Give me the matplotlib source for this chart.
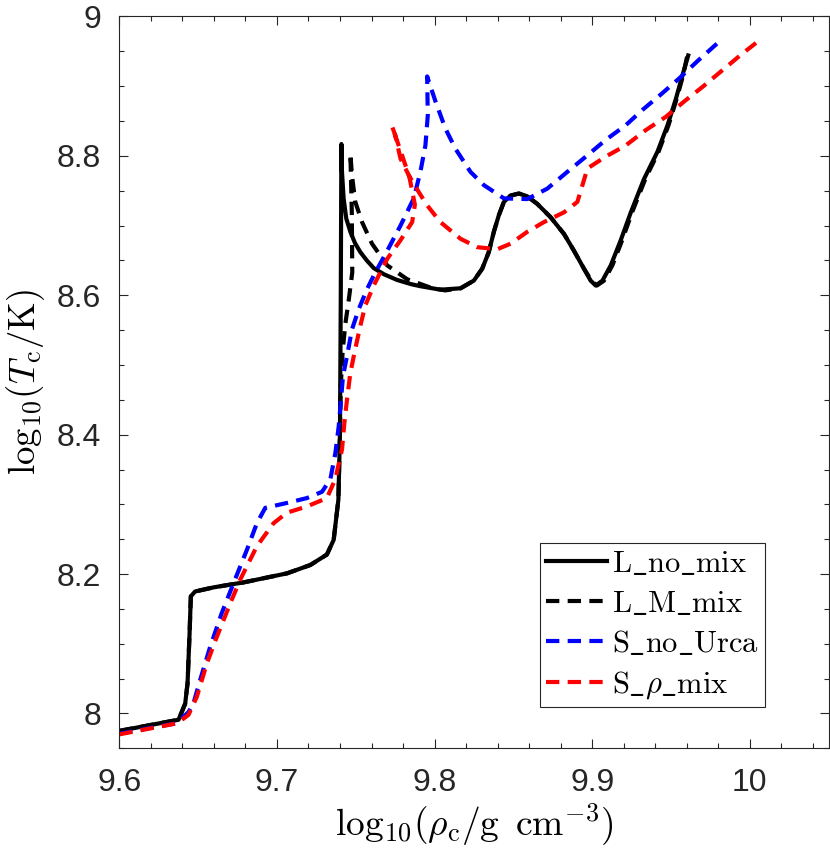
import matplotlib
matplotlib.use("Agg")
import matplotlib.pyplot as plt
from matplotlib.ticker import MultipleLocator, FuncFormatter

plt.rcParams['font.family'] = ['Liberation Sans', 'DejaVu Sans']
plt.rcParams['mathtext.fontset'] = 'cm'

# log10(rho_c), log10(T_c)
l_nomix_x = [9.600, 9.6376, 9.6418, 9.6433, 9.6446, 9.6454, 9.6481, 9.6600, 9.6788, 9.7064,
             9.7212, 9.7317, 9.7360, 9.7390, 9.7400, 9.7405, 9.7409, 9.7412, 9.7423, 9.7440,
             9.7466, 9.7495, 9.7529, 9.7570, 9.7614, 9.7680, 9.7762, 9.7850, 9.7910, 9.8037,
             9.8165, 9.8249, 9.8302, 9.8344, 9.8376, 9.8408, 9.8440, 9.8482, 9.8535, 9.8588,
             9.8652, 9.8736, 9.8821, 9.8884, 9.8948, 9.8990, 9.9022, 9.9065, 9.9118, 9.9181,
             9.9245, 9.9329, 9.9414, 9.9478, 9.9531, 9.9573, 9.9609]
l_nomix_y = [7.975, 7.991, 8.014, 8.043, 8.115, 8.168, 8.175, 8.181, 8.188, 8.201,
             8.213, 8.228, 8.249, 8.307, 8.403, 8.595, 8.817, 8.780, 8.739, 8.710,
             8.691, 8.675, 8.662, 8.650, 8.639, 8.630, 8.622, 8.616, 8.613, 8.608,
             8.610, 8.621, 8.638, 8.662, 8.691, 8.715, 8.734, 8.743, 8.746, 8.742,
             8.731, 8.712, 8.688, 8.664, 8.638, 8.621, 8.614, 8.621, 8.643, 8.679,
             8.719, 8.767, 8.806, 8.844, 8.882, 8.916, 8.944]

l_mmix_x = [9.600, 9.6376, 9.6418, 9.6433, 9.6446, 9.6454, 9.6481, 9.6600, 9.6788, 9.7064,
            9.7212, 9.7317, 9.7360, 9.7390, 9.7400, 9.7405, 9.7417, 9.7434, 9.7455, 9.7478,
            9.7475, 9.7466, 9.7476, 9.7497, 9.7540, 9.7603, 9.7699, 9.7826, 9.7974, 9.8067,
            9.8165, 9.8249, 9.8302, 9.8344, 9.8376, 9.8408, 9.8440, 9.8482, 9.8535, 9.8588,
            9.8652, 9.8736, 9.8821, 9.8884, 9.8948, 9.8995, 9.9030, 9.9075, 9.9128, 9.9190,
            9.9253, 9.9337, 9.9421, 9.9484, 9.9536, 9.9577, 9.9609]
l_mmix_y = [7.975, 7.991, 8.014, 8.043, 8.115, 8.168, 8.175, 8.181, 8.188, 8.201,
            8.213, 8.228, 8.249, 8.307, 8.403, 8.470, 8.520, 8.559, 8.592, 8.633,
            8.720, 8.803, 8.772, 8.734, 8.705, 8.674, 8.643, 8.623, 8.611, 8.607,
            8.610, 8.621, 8.638, 8.662, 8.691, 8.715, 8.734, 8.743, 8.746, 8.742,
            8.731, 8.712, 8.688, 8.664, 8.638, 8.621, 8.614, 8.621, 8.643, 8.679,
            8.719, 8.767, 8.806, 8.844, 8.882, 8.916, 8.950]

s_nourca_x = [9.600, 9.6365, 9.6439, 9.6470, 9.6513, 9.6577, 9.6650, 9.6725, 9.6810, 9.6873,
              9.6926, 9.7063, 9.7190, 9.7286, 9.7339, 9.7371, 9.7392, 9.7407, 9.7419, 9.7445,
              9.7476, 9.7519, 9.7572, 9.7625, 9.7700, 9.7784, 9.7868, 9.7910, 9.7942, 9.7957,
              9.7953, 9.8006, 9.8069, 9.8133, 9.8228, 9.8313, 9.8440, 9.8588, 9.8715, 9.8842,
              9.8960, 9.9086, 9.9213, 9.9319, 9.9435, 9.9551, 9.9668, 9.9796]
s_nourca_y = [7.971, 7.986, 8.002, 8.014, 8.048, 8.096, 8.144, 8.187, 8.235, 8.273,
              8.295, 8.302, 8.309, 8.318, 8.336, 8.374, 8.412, 8.451, 8.484, 8.513,
              8.551, 8.580, 8.609, 8.633, 8.664, 8.700, 8.739, 8.777, 8.815, 8.858,
              8.914, 8.878, 8.839, 8.810, 8.777, 8.758, 8.739, 8.738, 8.753, 8.777,
              8.799, 8.823, 8.844, 8.866, 8.888, 8.911, 8.936, 8.962]

s_rhomix_x = [9.600, 9.6369, 9.6439, 9.6492, 9.6556, 9.6619, 9.6704, 9.6767, 9.6873, 9.6979,
              9.7063, 9.7190, 9.7317, 9.7370, 9.7413, 9.7428, 9.7445, 9.7466, 9.7497, 9.7529,
              9.7560, 9.7614, 9.7699, 9.7784, 9.7858, 9.7875, 9.7840, 9.7780, 9.7731, 9.7750,
              9.7784, 9.7837, 9.7900, 9.7953, 9.8037, 9.8165, 9.8271, 9.8398, 9.8482, 9.8588,
              9.8694, 9.8821, 9.8906, 9.8938, 9.8970, 9.9086, 9.9213, 9.9340, 9.9467, 9.9583,
              9.9700, 9.9816, 9.9943, 10.0039]
s_rhomix_y = [7.970, 7.986, 7.998, 8.024, 8.072, 8.110, 8.158, 8.192, 8.240, 8.273,
              8.288, 8.297, 8.309, 8.336, 8.379, 8.417, 8.451, 8.489, 8.523, 8.556,
              8.585, 8.614, 8.652, 8.679, 8.705, 8.730, 8.770, 8.810, 8.842, 8.830,
              8.796, 8.772, 8.748, 8.729, 8.705, 8.681, 8.669, 8.666, 8.674, 8.691,
              8.705, 8.719, 8.734, 8.758, 8.782, 8.799, 8.815, 8.837, 8.856, 8.878,
              8.899, 8.921, 8.945, 8.962]

labels = [r'$\mathrm{L\_no\_mix}$', r'$\mathrm{L\_M\_mix}$',
          r'$\mathrm{S\_no\_Urca}$', r'$\mathrm{S\_}\rho\mathrm{\_mix}$']

ink = '#262626'
fig = plt.figure(figsize=(8.30, 8.49), dpi=100)
ax = fig.add_axes([0.1437, 0.1186, 0.8547, 0.8620])

lw = 3.0
dash = (3.2, 2.0)
ax.plot(l_nomix_x, l_nomix_y, color='k', lw=lw, label=labels[0])
ax.plot(l_mmix_x, l_mmix_y, color='k', lw=lw, ls=(0, dash), label=labels[1])
ax.plot(s_nourca_x, s_nourca_y, color='#0000ff', lw=lw, ls=(0, dash), label=labels[2])
ax.plot(s_rhomix_x, s_rhomix_y, color='#ff0000', lw=lw, ls=(0, dash), label=labels[3])

ax.set_xlim(9.6, 10.05)
ax.set_ylim(7.95, 9.0)
ax.xaxis.set_major_locator(MultipleLocator(0.1))
ax.xaxis.set_minor_locator(MultipleLocator(0.02))
ax.yaxis.set_major_locator(MultipleLocator(0.2))
ax.yaxis.set_minor_locator(MultipleLocator(0.05))
fmt = FuncFormatter(lambda v, pos: f'{v:g}')
ax.xaxis.set_major_formatter(fmt)
ax.yaxis.set_major_formatter(fmt)

ax.tick_params(which='both', direction='in', top=True, right=True, color=ink,
               labelcolor=ink, labelsize=23, width=0.8)
ax.tick_params(which='major', length=6.5)
ax.tick_params(which='minor', length=3.8)
ax.tick_params(axis='x', pad=14)
ax.tick_params(axis='y', pad=13)
for s in ax.spines.values():
    s.set_color(ink)
    s.set_linewidth(0.8)

ax.set_xlabel(r'$\mathrm{log}_{10}(\rho_\mathrm{c}/\mathrm{g\ \,cm}^{-3})$', fontsize=27, labelpad=3)
ax.set_ylabel(r'$\mathrm{log}_{10}(T_\mathrm{c}/\mathrm{K})$', fontsize=26.5, labelpad=7)

leg = ax.legend(loc='upper left', bbox_to_anchor=(0.593, 0.281), fontsize=22,
                handlelength=2.0, handletextpad=0.16, borderpad=0.2, labelspacing=0.33,
                borderaxespad=0, fancybox=False, framealpha=1)
leg.get_frame().set_edgecolor(ink)
leg.get_frame().set_linewidth(0.8)

fig.savefig('out.png', dpi=100)
